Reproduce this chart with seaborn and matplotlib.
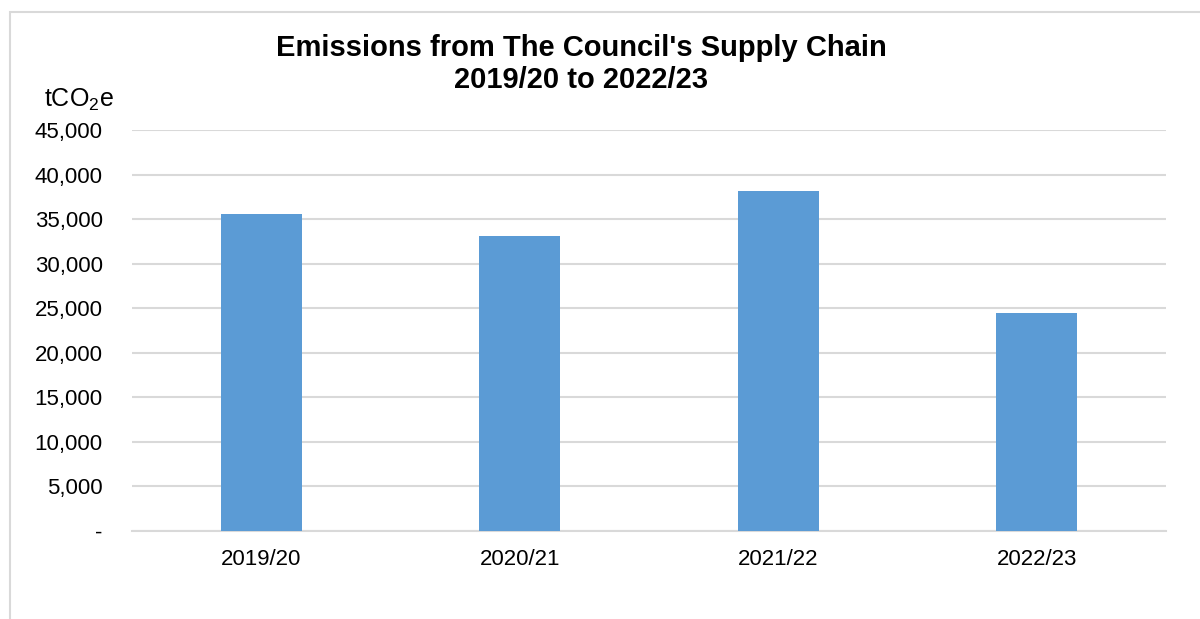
import matplotlib
matplotlib.use("Agg")
import matplotlib.pyplot as plt
from matplotlib.patches import Rectangle
from matplotlib.ticker import FuncFormatter
import seaborn as sns
import pandas as pd

# Supply-chain emissions by financial year (tCO2e)
years = ["2019/20", "2020/21", "2021/22", "2022/23"]
emissions = [35600, 33100, 38150, 24450]
y_ticks = [0, 5000, 10000, 15000, 20000, 25000, 30000, 35000, 40000, 45000]

df = pd.DataFrame({"year": years, "tco2e": emissions})

sns.set_theme(style="white")
plt.rcParams["font.family"] = ["Liberation Sans", "DejaVu Sans"]
plt.rcParams["mathtext.default"] = "regular"
plt.rcParams["text.color"] = "black"

fig = plt.figure(figsize=(12, 6.19), dpi=100)
ax = fig.add_axes([0.11, 0.1422, 0.8617, 0.6478])

sns.barplot(data=df, x="year", y="tco2e", color="#5B9BD5", saturation=1,
            width=0.313, linewidth=0, ax=ax, zorder=3)

ax.set_xlim(-0.5, len(years) - 0.5)
ax.set_ylim(0, 45000)
ax.set_yticks(y_ticks)
ax.yaxis.set_major_formatter(
    FuncFormatter(lambda v, _: "-" if v == 0 else f"{int(v):,}"))
ax.grid(axis="y", color="#D9D9D9", linewidth=1.5, zorder=0)
ax.set_axisbelow(True)
for side in ["top", "right", "left"]:
    ax.spines[side].set_visible(False)
ax.spines["bottom"].set_color("#D9D9D9")
ax.spines["bottom"].set_linewidth(1.5)
ax.tick_params(axis="both", length=0, labelsize=16, colors="black")
ax.tick_params(axis="y", pad=21)
ax.tick_params(axis="x", pad=13)
ax.set_xlabel("")
ax.set_ylabel("")

fig.text(79 / 1200, 1 - 100 / 619, "tCO$_2$e", fontsize=18,
         ha="center", va="center", color="black")
fig.text(581 / 1200, 1 - 64 / 619,
         "Emissions from The Council's Supply Chain\n2019/20 to 2022/23",
         fontsize=21, fontweight="bold", ha="center", va="center",
         linespacing=1.18, color="black")

# Chart frame
fig.patches.append(Rectangle((10 / 1200, -0.05), 1.1, 1 - 12 / 619 + 0.05,
                             transform=fig.transFigure, fill=False,
                             edgecolor="#D9D9D9", linewidth=1.5))

fig.savefig("out.png", dpi=100, facecolor="white")
